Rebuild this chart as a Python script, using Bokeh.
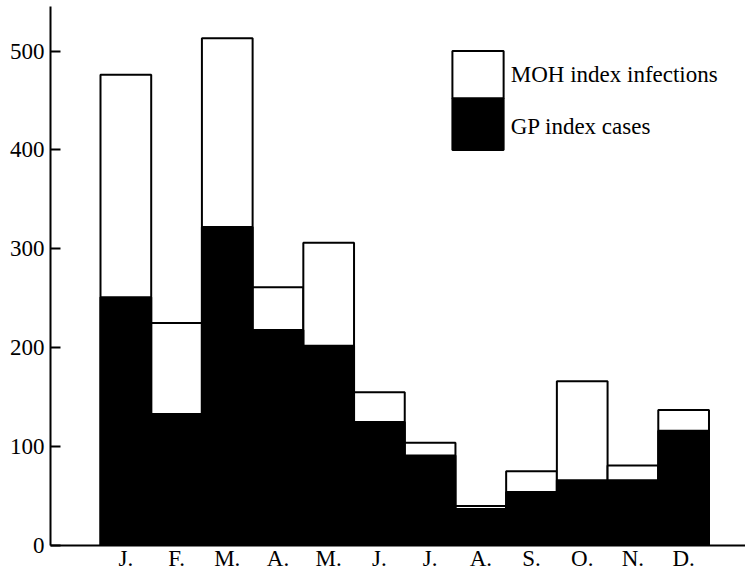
from bokeh.plotting import figure
from bokeh.models import Range1d, FixedTicker, ColumnDataSource
from bokeh.core.properties import value
from bokeh.embed import file_html
from bokeh.resources import INLINE

# Data
months = ["J.", "F.", "M.", "A.", "M.", "J.", "J.", "A.", "S.", "O.", "N.", "D."]
moh_index_infections = [476, 225, 513, 261, 306, 155, 104, 40, 75, 166, 81, 137]
gp_index_cases = [251, 133, 322, 218, 202, 125, 91, 37, 54, 66, 66, 116]
y_ticks = [0, 100, 200, 300, 400, 500]
legend_labels = ["MOH index infections", "GP index cases"]

FONT = "Liberation Serif"
FS = "23px"

xs = [i + 0.5 for i in range(len(months))]
src = ColumnDataSource(dict(x=xs, moh=moh_index_infections, gp=gp_index_cases))

p = figure(width=745, height=573, output_backend="svg", toolbar_location=None,
           x_range=Range1d(-0.986, 12.72), y_range=Range1d(0, 545),
           min_border_left=50, min_border_top=6, min_border_right=0, min_border_bottom=24)
p.outline_line_color = None
p.grid.visible = False
p.background_fill_color = "white"
p.border_fill_color = "white"

# outlined total bars (MOH) and filled GP bars
p.vbar(x="x", top="moh", bottom=0, width=1.0, source=src,
       fill_color="white", line_color="black", line_width=2)
p.vbar(x="x", top="gp", bottom=0, width=1.0, source=src,
       fill_color="black", line_color="black", line_width=2)

# legend drawn as a box split in two
lx0, lx1 = 6.94, 7.95
p.quad(left=[lx0], right=[lx1], bottom=[452], top=[500],
       fill_color="white", line_color="black", line_width=2)
p.quad(left=[lx0], right=[lx1], bottom=[400], top=[452],
       fill_color="black", line_color="black", line_width=2)
p.text(x=[8.09, 8.09], y=[476, 424], text=legend_labels,
       text_font=value(FONT), text_font_size=FS, text_baseline="middle",
       text_align="left", text_color="black")

# axes
xa = p.xaxis[0]
xa.ticker = FixedTicker(ticks=xs)
xa.major_label_overrides = {x: m for x, m in zip(xs, months)}
xa.major_tick_line_color = None
xa.major_tick_out = 0
xa.major_tick_in = 0
xa.minor_tick_line_color = None
xa.minor_tick_out = 0
xa.axis_line_width = 2
xa.axis_line_color = "black"
xa.major_label_text_font = FONT
xa.major_label_text_font_size = FS
xa.major_label_text_color = "black"
xa.major_label_standoff = 0

ya = p.yaxis[0]
ya.ticker = FixedTicker(ticks=y_ticks)
ya.minor_tick_line_color = None
ya.major_tick_in = 10
ya.major_tick_out = 0
ya.major_tick_line_width = 2
ya.major_tick_line_color = "black"
ya.axis_line_width = 2
ya.axis_line_color = "black"
ya.major_label_text_font = FONT
ya.major_label_text_font_size = FS
ya.major_label_text_color = "black"
ya.major_label_standoff = 6

open("out.html", "w").write(file_html(p, INLINE))
